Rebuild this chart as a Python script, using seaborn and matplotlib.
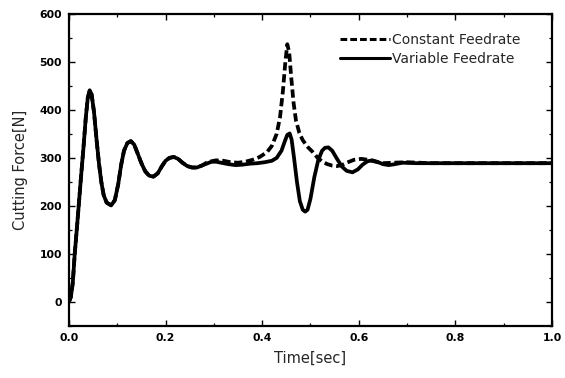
import matplotlib

matplotlib.use("Agg")
import matplotlib.pyplot as plt
import pandas as pd
import seaborn as sns
from matplotlib.ticker import MultipleLocator

# Variable feedrate: time [s] and cutting force [N]
var_time = [
    0.000, 0.004, 0.008, 0.012, 0.017, 0.021, 0.025, 0.030, 0.035, 0.039,
    0.043, 0.047, 0.052, 0.057, 0.062, 0.067, 0.072, 0.078, 0.0875, 0.095,
    0.102, 0.108, 0.114, 0.121, 0.128, 0.135, 0.142, 0.150, 0.158, 0.166,
    0.175, 0.184, 0.192, 0.200, 0.208, 0.217, 0.226, 0.235, 0.245, 0.255,
    0.265, 0.275, 0.285, 0.295, 0.305, 0.315, 0.330, 0.345, 0.360, 0.375,
    0.390, 0.405, 0.420, 0.430, 0.440, 0.447, 0.452, 0.457, 0.461, 0.466,
    0.472, 0.478, 0.484, 0.489, 0.494, 0.500, 0.508, 0.516, 0.524, 0.530,
    0.537, 0.545, 0.555, 0.565, 0.575, 0.587, 0.598, 0.608, 0.618, 0.628,
    0.638, 0.650, 0.662, 0.675, 0.690, 0.720, 0.760, 0.800, 0.850, 0.900,
    0.950, 1.000,
]
var_force = [
    0, 10, 40, 100, 160, 210, 260, 320, 385, 425,
    441, 432, 395, 340, 290, 250, 222, 207, 201, 212,
    245, 285, 315, 331, 335, 328, 310, 289, 272, 263,
    261, 268, 282, 294, 300, 302, 298, 290, 283, 280,
    280, 284, 288, 292, 292, 290, 287, 285, 286, 288,
    289, 291, 294, 300, 315, 335, 348, 351, 338, 300,
    250, 210, 192, 188, 192, 215, 260, 295, 315, 321,
    322, 315, 298, 282, 273, 270, 276, 286, 293, 295,
    292, 287, 285, 287, 290, 289, 289, 289, 289, 289,
    289, 289,
]

# Constant feedrate: identical to the variable one up to t = 0.275 s
shared = 42
const_time = var_time[:shared] + [
    0.285, 0.295, 0.305, 0.320, 0.335, 0.350, 0.365, 0.380, 0.395, 0.410,
    0.420, 0.430, 0.437, 0.443, 0.448, 0.452, 0.456, 0.460, 0.465, 0.470,
    0.477, 0.484, 0.495, 0.505, 0.515, 0.525, 0.535, 0.545, 0.555, 0.565,
    0.575, 0.590, 0.605, 0.620, 0.635, 0.650, 0.670, 0.700, 0.750, 0.800,
    0.900, 1.000,
]
const_force = var_force[:shared] + [
    290, 293, 295, 294, 291, 290, 292, 296, 302, 312,
    325, 350, 385, 440, 500, 537, 520, 470, 415, 378,
    352, 337, 322, 312, 300, 292, 287, 284, 283, 285,
    290, 296, 298, 296, 292, 289, 290, 291, 289, 289,
    289, 289,
]

series_names = ["Constant Feedrate", "Variable Feedrate"]

df = pd.concat([
    pd.DataFrame({"time": const_time, "force": const_force, "case": series_names[0]}),
    pd.DataFrame({"time": var_time, "force": var_force, "case": series_names[1]}),
], ignore_index=True)

sns.set_style("ticks")
plt.rcParams["font.family"] = ["DejaVu Sans"]

fig = plt.figure(figsize=(5.65, 3.78), dpi=100)
ax = fig.add_axes([0.122, 0.138, 0.855, 0.825])

sns.lineplot(
    data=df, x="time", y="force", hue="case", style="case",
    hue_order=series_names, style_order=series_names,
    palette=["black", "black"], dashes=[(2.2, 1.0), ""],
    linewidth=2.7, sort=False, estimator=None, ax=ax,
)

ax.set_xlim(0.0, 1.0)
ax.set_ylim(-50, 600)
ax.xaxis.set_major_locator(MultipleLocator(0.2))
ax.xaxis.set_minor_locator(MultipleLocator(0.1))
ax.yaxis.set_major_locator(MultipleLocator(100))
ax.yaxis.set_minor_locator(MultipleLocator(50))
ax.set_xticks([0.0, 0.2, 0.4, 0.6, 0.8, 1.0])
ax.set_xticklabels(["0.0", "0.2", "0.4", "0.6", "0.8", "1.0"])
ax.tick_params(which="both", direction="in", top=True, right=True, colors="black")
ax.tick_params(which="major", length=4, width=1.0, labelsize=7.8, pad=5)
ax.tick_params(which="minor", length=2.5, width=0.9)
for lab in ax.get_xticklabels() + ax.get_yticklabels():
    lab.set_fontweight("bold")
for sp in ax.spines.values():
    sp.set_linewidth(1.6)
    sp.set_color("black")

ax.set_xlabel("Time[sec]", fontsize=10.5, fontweight="medium", labelpad=6)
ax.set_ylabel("Cutting Force[N]", fontsize=10.5, fontweight="medium", labelpad=8)

leg = ax.legend(
    loc="upper right", bbox_to_anchor=(0.96, 0.98), frameon=False,
    fontsize=10, handlelength=3.6, handletextpad=0.1, labelspacing=0.35,
)
for line in leg.get_lines():
    line.set_linewidth(2.2)

fig.savefig("out.png", dpi=100)
